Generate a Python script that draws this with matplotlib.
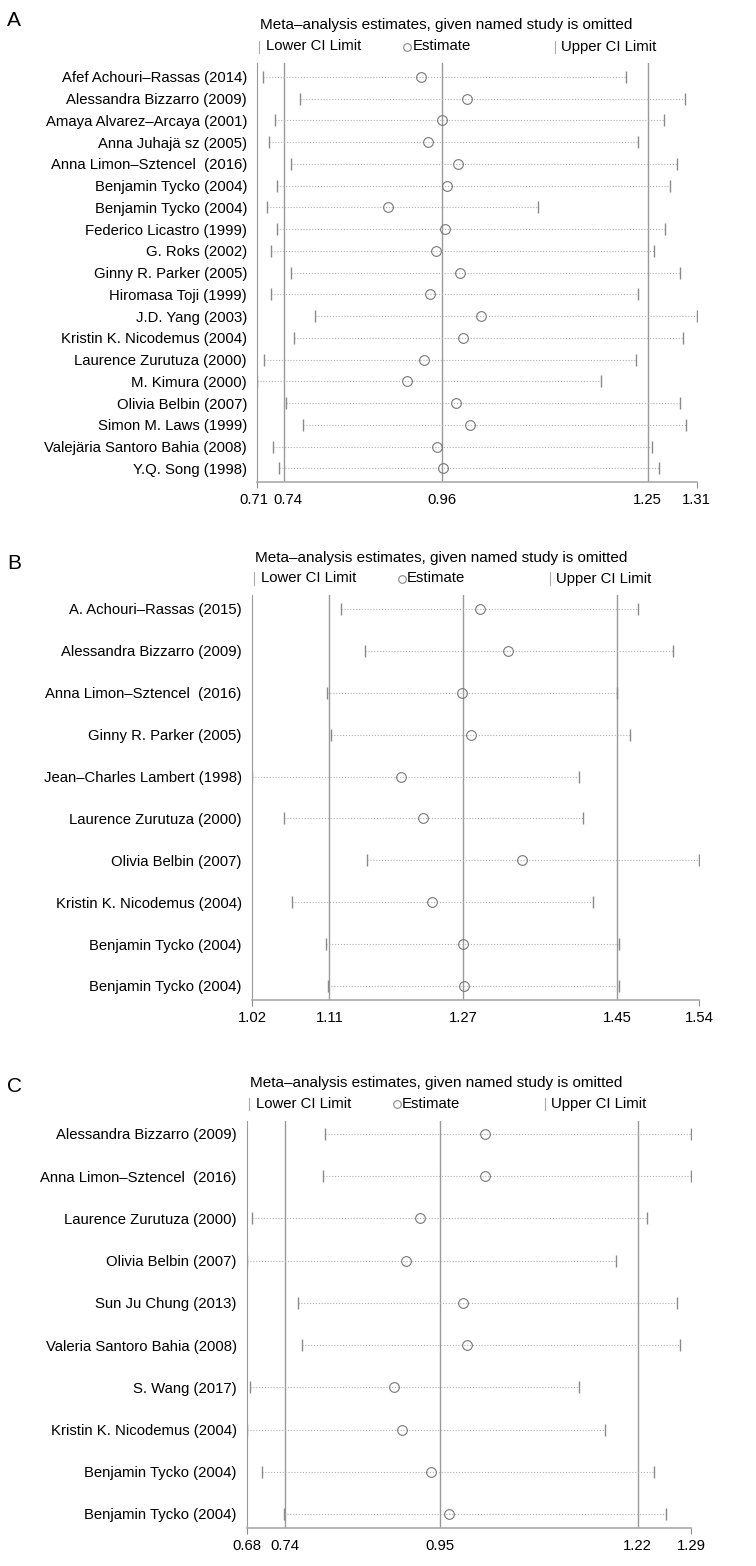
import matplotlib
matplotlib.use('Agg')
import matplotlib.pyplot as plt
import matplotlib.transforms as mtransforms
from matplotlib import font_manager
from matplotlib.lines import Line2D

W, H = 756, 1566

# ---- panel A ----
names_a = ['Afef Achouri–Rassas (2014)', 'Alessandra Bizzarro (2009)', 'Amaya Alvarez–Arcaya (2001)',
           'Anna Juhajä sz (2005)', 'Anna Limon–Sztencel  (2016)', 'Benjamin Tycko (2004)',
           'Benjamin Tycko (2004)', 'Federico Licastro (1999)', 'G. Roks (2002)',
           'Ginny R. Parker (2005)', 'Hiromasa Toji (1999)', 'J.D. Yang (2003)',
           'Kristin K. Nicodemus (2004)', 'Laurence Zurutuza (2000)', 'M. Kimura (2000)',
           'Olivia Belbin (2007)', 'Simon M. Laws (1999)', 'Valejäria Santoro Bahia (2008)',
           'Y.Q. Song (1998)']
lower_a = [0.711, 0.763, 0.728, 0.720, 0.750, 0.731, 0.717, 0.731, 0.722, 0.751,
           0.722, 0.784, 0.755, 0.713, 0.703, 0.743, 0.768, 0.725, 0.733]
est_a = [0.932, 0.997, 0.962, 0.943, 0.984, 0.969, 0.886, 0.966, 0.953, 0.987,
         0.945, 1.017, 0.991, 0.937, 0.913, 0.982, 1.001, 0.955, 0.963]
upper_a = [1.220, 1.303, 1.273, 1.236, 1.291, 1.282, 1.097, 1.275, 1.259, 1.296,
           1.236, 1.319, 1.299, 1.234, 1.185, 1.296, 1.304, 1.256, 1.266]
overall_a = [0.74, 0.962, 1.25]
range_a = [0.7033, 1.3187]
ticks_a = ['0.71', '0.74', '0.96', '1.25', '1.31']

# ---- panel B ----
names_b = ['A. Achouri–Rassas (2015)', 'Alessandra Bizzarro (2009)', 'Anna Limon–Sztencel  (2016)',
           'Ginny R. Parker (2005)', 'Jean–Charles Lambert (1998)', 'Laurence Zurutuza (2000)',
           'Olivia Belbin (2007)', 'Kristin K. Nicodemus (2004)', 'Benjamin Tycko (2004)',
           'Benjamin Tycko (2004)']
lower_b = [1.124, 1.152, 1.107, 1.112, 1.019, 1.057, 1.155, 1.066, 1.106, 1.109]
est_b = [1.288, 1.321, 1.267, 1.277, 1.195, 1.221, 1.337, 1.231, 1.268, 1.269]
upper_b = [1.475, 1.516, 1.450, 1.465, 1.405, 1.410, 1.5465, 1.421, 1.452, 1.452]
overall_b = [1.11, 1.268, 1.45]
range_b = [1.0187, 1.5465]
ticks_b = ['1.02', '1.11', '1.27', '1.45', '1.54']

# ---- panel C ----
names_c = ['Alessandra Bizzarro (2009)', 'Anna Limon–Sztencel  (2016)', 'Laurence Zurutuza (2000)',
           'Olivia Belbin (2007)', 'Sun Ju Chung (2013)', 'Valeria Santoro Bahia (2008)',
           'S. Wang (2017)', 'Kristin K. Nicodemus (2004)', 'Benjamin Tycko (2004)',
           'Benjamin Tycko (2004)']
lower_c = [0.794, 0.792, 0.694, 0.6878, 0.757, 0.763, 0.692, 0.6878, 0.708, 0.738]
est_c = [1.012, 1.012, 0.924, 0.905, 0.982, 0.987, 0.888, 0.899, 0.938, 0.963]
upper_c = [1.292, 1.293, 1.233, 1.191, 1.273, 1.278, 1.140, 1.175, 1.242, 1.259]
overall_c = [0.74, 0.951, 1.22]
range_c = [0.6878, 1.2926]
ticks_c = ['0.68', '0.74', '0.95', '1.22', '1.29']

installed = {f.name for f in font_manager.fontManager.ttflist}
if 'Liberation Sans Narrow' in installed:
    main_font, fs = 'Liberation Sans Narrow', 12.5
else:
    main_font, fs = 'Liberation Sans', 10.7
plt.rcParams['font.family'] = [main_font, 'DejaVu Sans']

GRID = '#999999'
TICK = '#8a8a8a'
DOT = '#b0b0b0'


def fx(x):
    return x / W


def fy(y):
    return 1 - y / H


fig = plt.figure(figsize=(W / 100, H / 100), dpi=100)


def panel(letter, letter_y, box, first_row, last_row, names, lower, est, upper, overall, lims, ticklabels):
    left, right, top, bottom = box
    ax = fig.add_axes([fx(left), fy(bottom), (right - left) / W, (bottom - top) / H])
    n = len(names)
    rows = list(range(n))
    pitch = (last_row - first_row) / (n - 1)

    ax.hlines(rows, lower, upper, colors=DOT, linestyles=(0, (1, 1.6)), lw=0.8)
    ax.plot(lower, rows, ls='none', marker='|', ms=9, mew=1, color=TICK)
    ax.plot(upper, rows, ls='none', marker='|', ms=9, mew=1, color=TICK)
    for v in overall:
        ax.axvline(v, color=GRID, lw=1, zorder=1)
    ax.plot(est, rows, ls='none', marker='o', ms=7, mfc='none', mec='#777777', mew=0.8, zorder=3)

    ax.set_xlim(lims)
    ax.set_ylim(n - 1 + (bottom - last_row) / pitch, -(first_row - top) / pitch)
    ax.set_xticks(lims, [ticklabels[0], ticklabels[-1]])
    ax.set_xticks(overall, ticklabels[1:4], minor=True)
    ax.tick_params(axis='x', which='major', length=4, color=TICK, pad=4, labelsize=fs)
    ax.tick_params(axis='x', which='minor', length=0, pad=8, labelsize=fs)
    ax.set_yticks(rows, names)
    ax.tick_params(axis='y', length=0, pad=7.5, labelsize=fs)

    # keep the two leftmost tick labels apart when they sit close together
    gap = (overall[0] - lims[0]) / (lims[1] - lims[0]) * (right - left)
    if gap < 34:
        push = (34 - gap) / 2
        ax.get_xticklabels()[0].set_transform(
            ax.get_xticklabels()[0].get_transform() + mtransforms.ScaledTranslation(-push / 100, 0, fig.dpi_scale_trans))
        ax.get_xticklabels(minor=True)[0].set_transform(
            ax.get_xticklabels(minor=True)[0].get_transform() + mtransforms.ScaledTranslation(push / 100, 0, fig.dpi_scale_trans))

    for s in ['top', 'right']:
        ax.spines[s].set_visible(False)
    ax.spines['left'].set_color(GRID)
    ax.spines['bottom'].set_color('#aaaaaa')
    ax.spines['bottom'].set_linewidth(1.2)

    # header
    fig.text(fx(7), fy(letter_y), letter, fontsize=15, family='Liberation Sans', va='center', ha='left')
    fig.text(fx(left + 3), fy(top - 37.5), 'Meta–analysis estimates, given named study is omitted',
             fontsize=fs * 1.03, va='center', ha='left')
    ly = top - 16.5
    for bx in [left + 2, left + 298]:
        fig.add_artist(Line2D([fx(bx), fx(bx)], [fy(ly - 6), fy(ly + 6)], color='#aaaaaa', lw=0.8))
    fig.add_artist(Line2D([fx(left + 150)], [fy(ly)], marker='o', ms=5.5, mfc='none', mec='#888888',
                          mew=0.8, transform=fig.transFigure))
    fig.text(fx(left + 9), fy(ly), 'Lower CI Limit', fontsize=fs, va='center', ha='left')
    fig.text(fx(left + 155), fy(ly), 'Estimate', fontsize=fs, va='center', ha='left')
    fig.text(fx(left + 304), fy(ly), 'Upper CI Limit', fontsize=fs, va='center', ha='left')
    return ax


panel('A', 20, (257.3, 696.7, 63, 482.3), 77, 468.3,
      names_a, lower_a, est_a, upper_a, overall_a, range_a, ticks_a)
panel('B', 563, (252, 699, 595, 1000), 609, 986,
      names_b, lower_b, est_b, upper_b, overall_b, range_b, ticks_b)
panel('C', 1087, (247, 691, 1120.7, 1528.3), 1134, 1514,
      names_c, lower_c, est_c, upper_c, overall_c, range_c, ticks_c)

fig.savefig('out.png', dpi=100, facecolor='white')
